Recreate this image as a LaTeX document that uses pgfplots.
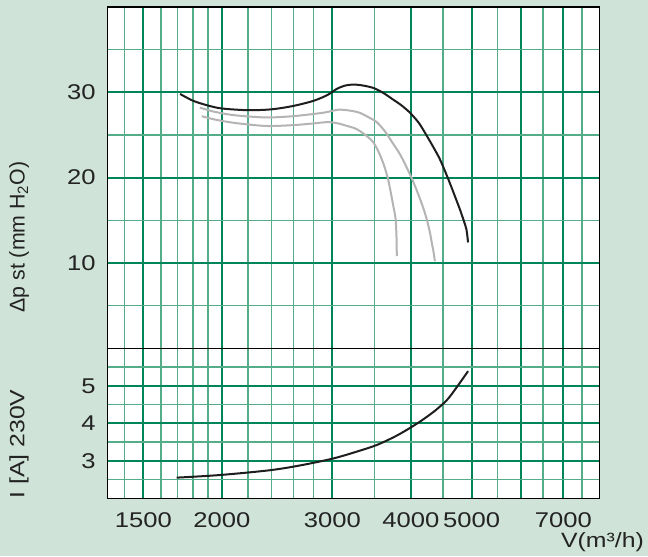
\documentclass[border=0pt]{standalone}
\usepackage{fontspec}
\setmainfont{Liberation Sans}[FakeStretch=1.2]
\newfontfamily\plainsans{Liberation Sans}
\usepackage{pgfplots}
\pgfplotsset{compat=1.18}

\definecolor{bg}{RGB}{207,227,217}
\definecolor{gmaj}{RGB}{0,132,90}
\definecolor{gmin}{RGB}{85,172,137}
\definecolor{curvegray}{RGB}{180,180,180}
\definecolor{curveblack}{RGB}{30,30,30}
\definecolor{txt}{RGB}{35,35,35}

\begin{document}
\begin{tikzpicture}
\fill[bg] (-80.8pt,-43.3pt) rectangle (405.2pt,373.7pt);

% current
\begin{axis}[xmode=log, scale only axis, width=368.7pt, height=112.5pt,
    at={(0pt,0pt)}, anchor=south west,
    xmin=1316, xmax=7990,
    xtick={1500,2000,3000,4000,5000,6000,7000},
    xticklabels={1500,2000,3000,4000,5000,,7000},
    minor xtick={1400,1600,1700,1800,1900,2200,2400,2600,2800,3500,4500,5500,6500,7500},
    ymin=2, ymax=6,
    ytick={3,4,5}, yticklabels={3,4,5},
    minor ytick={2.5,3.5,4.5,5.5},
    grid=both,
    major grid style={gmaj, line width=1.5pt},
    minor grid style={gmin, line width=1.05pt},
    major tick length=0pt, minor tick length=0pt,
    axis line style={black, line width=1.1pt},
    axis background/.style={fill=white},
    tick label style={font=\fontsize{16}{19}\selectfont, text=txt, inner sep=0pt},
    xticklabel style={anchor=north, yshift=-10.5pt},
    yticklabel style={anchor=east, xshift=-9pt},
    xlabel={V(m³/h)},
    xlabel style={at={(axis description cs:1.091,-0.29)}, anchor=east,
        inner sep=0pt, text=txt, font=\fontsize{15.5}{18}\selectfont},
    ylabel={I [A] 230V},
    ylabel style={at={(axis description cs:-0.1804,0.362)}, anchor=center,
        inner sep=0pt, text=txt, font=\fontsize{15.5}{18}\selectfont},
]
\addplot[curveblack, line width=1.5pt, smooth, no markers] coordinates {
  (1695,2.55) (1987,2.62) (2392,2.75) (2693,2.89) (3008,3.06) (3275,3.24)
  (3530,3.42) (3808,3.68) (4090,3.99) (4345,4.30) (4567,4.62) (4738,4.97)
  (4935,5.39)
};
\end{axis}

% static pressure
\begin{axis}[xmode=log, scale only axis, width=368.7pt, height=256pt,
    at={(0pt,112.5pt)}, anchor=south west,
    xmin=1316, xmax=7990,
    xtick={1500,2000,3000,4000,5000,6000,7000},
    xticklabels={},
    minor xtick={1400,1600,1700,1800,1900,2200,2400,2600,2800,3500,4500,5500,6500,7500},
    ymin=0, ymax=40,
    ytick={10,20,30}, yticklabels={10,20,30},
    minor ytick={5,15,25,35},
    grid=both,
    major grid style={gmaj, line width=1.5pt},
    minor grid style={gmin, line width=1.05pt},
    major tick length=0pt, minor tick length=0pt,
    axis line style={black, line width=1.1pt},
    axis background/.style={fill=white},
    tick label style={font=\fontsize{16}{19}\selectfont, text=txt, inner sep=0pt},
    yticklabel style={anchor=east, xshift=-9pt},
    ylabel={Δp st (mm H\textsubscript{2}O)},
    ylabel style={at={(axis description cs:-0.1804,0.326)}, anchor=center,
        inner sep=0pt, text=txt, font=\plainsans\fontsize{16}{19}\selectfont},
]
\addplot[curvegray, line width=1.5pt, smooth, no markers] coordinates {
  (1858,27.2) (1950,26.8) (2100,26.4) (2350,26.05) (2600,26.15) (2800,26.35)
  (2950,26.5) (3064,26.35) (3150,26.1) (3275,25.7) (3400,24.9) (3489,24.1)
  (3560,22.9) (3627,21.4) (3680,19.8) (3718,18.2) (3760,16.3) (3784,15.1)
  (3796,13.0) (3800,10.8)
};
\addplot[curvegray, line width=1.5pt, smooth, no markers] coordinates {
  (1845,28.2) (1950,27.7) (2100,27.3) (2350,27.05) (2600,27.2) (2900,27.6)
  (3064,27.95) (3200,27.85) (3315,27.6) (3420,27.1) (3530,26.5) (3640,25.4)
  (3739,24.1) (3840,22.8) (3928,21.4) (4020,19.8) (4103,18.2) (4180,16.6)
  (4241,15.1) (4290,13.6) (4320,12.35) (4350,11.2) (4369,10.2)
};
\addplot[curveblack, line width=1.5pt, smooth, no markers] coordinates {
  (1716,29.8) (1800,29.0) (1900,28.45) (2000,28.1) (2200,27.9) (2400,28.0)
  (2600,28.4) (2800,29.0) (2950,29.7) (3050,30.4) (3150,30.8) (3250,30.9)
  (3350,30.8) (3489,30.5) (3620,29.9) (3739,29.2) (3860,28.5) (3988,27.6)
  (4120,26.4) (4241,24.9) (4350,23.5) (4447,22.2) (4550,20.5) (4636,19.0)
  (4720,17.5) (4788,16.3) (4860,14.9) (4906,13.9) (4935,12.4)
};
\end{axis}
\end{tikzpicture}
\end{document}
